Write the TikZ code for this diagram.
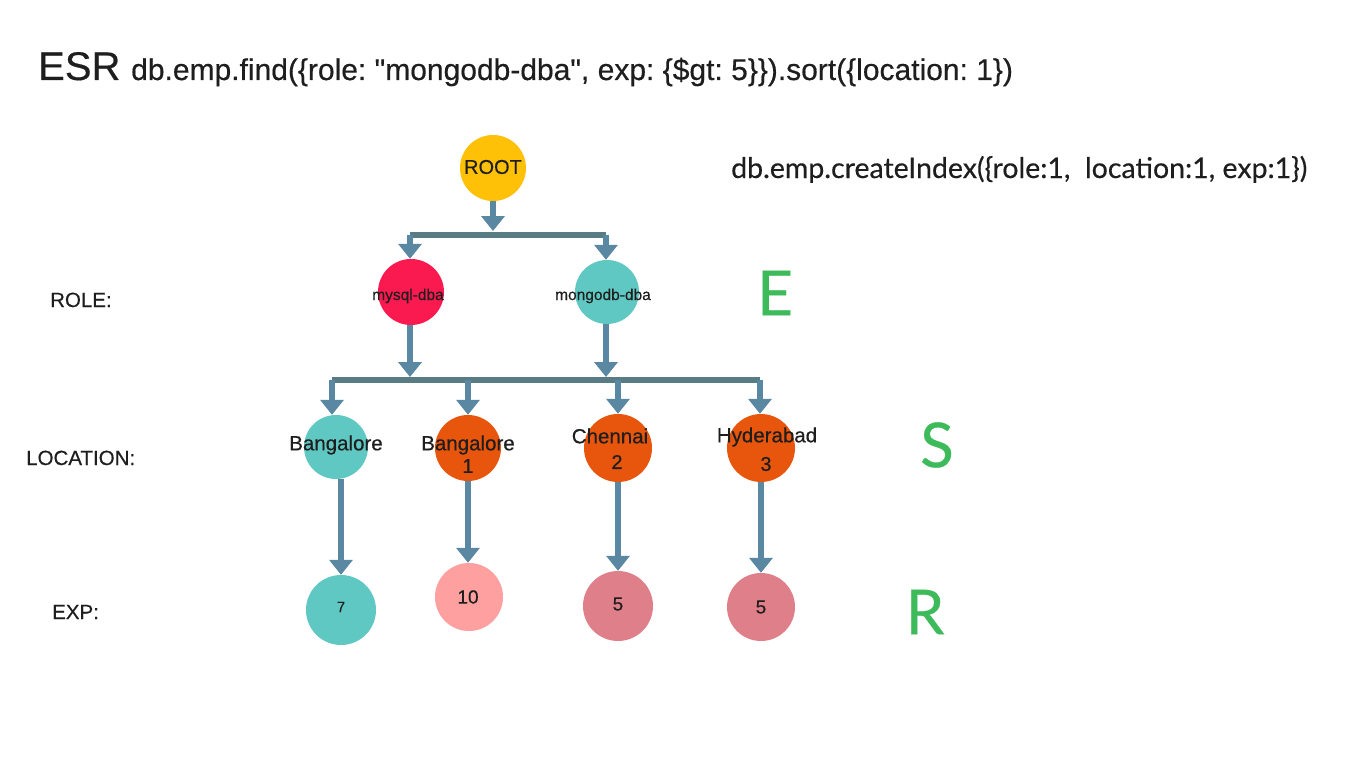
\documentclass[tikz,border=0pt]{standalone}
\usepackage{fontspec}
\setmainfont{Liberation Sans}[FakeBold=0.4]
\newfontfamily\querfont{Liberation Sans}[FakeBold=0.4]
\newfontfamily\latofont{Lato}[FakeBold=0.4]
\usetikzlibrary{arrows.meta}
\definecolor{arrowc}{HTML}{5A88A3}
\definecolor{barc}{HTML}{587C84}
\definecolor{yel}{HTML}{FFC107}
\definecolor{crim}{HTML}{FA1A4F}
\definecolor{teal}{HTML}{5FC8C3}
\definecolor{orng}{HTML}{E8550C}
\definecolor{pinkl}{HTML}{FFA0A0}
\definecolor{rose}{HTML}{DE7F8A}
\definecolor{esrg}{HTML}{3DBA5A}
\definecolor{txt}{HTML}{1E1E1E}
\frenchspacing
\begin{document}
\begin{tikzpicture}[x=1pt,y=-1pt,
  circ/.style={circle,inner sep=0pt,minimum size=#1},
  arr/.style={draw=arrowc,line width=6pt,-{Triangle[width=23pt,length=15pt]}},
  barline/.style={draw=barc,line width=6pt},
  ntext/.style={text=txt,inner sep=0pt,font=\fontsize{#1}{#1}\selectfont},
  rowlbl/.style={text=txt,inner sep=0pt,anchor=base west,font=\fontsize{20.5}{20.5}\selectfont},
  bigl/.style={text=esrg,inner sep=0pt,font=\latofont\fontsize{62}{62}\selectfont}]
\useasboundingbox[fill=white] (0,0) rectangle (1366,768);

% title
\node[anchor=base west,inner sep=0pt,text=txt,font=\fontsize{40}{40}\selectfont] (esr) at (38,80) {ESR};
\node[anchor=base west,inner sep=0pt,text=txt,font=\querfont\fontsize{30}{30}\selectfont] (query) at (131,80) {db.emp.find(\{role: "mongodb-dba", exp: \{\$gt: 5\}\}).sort(\{location: 1\})};
\node[anchor=base west,inner sep=0pt,text=txt,font=\latofont\fontsize{28.5}{28.5}\selectfont] (idx) at (731,178) {db.emp.createIndex(\{role:1,\ \ location:1, exp:1\})};

% row labels
\node[rowlbl] (lrole) at (50,307) {ROLE:};
\node[rowlbl] (lloc) at (26,465) {LOCATION:};
\node[rowlbl] (lexp) at (52,619) {EXP:};

% big letters
\node[bigl] (bE) at (775,293) {E};
\node[bigl] (bS) at (937,445) {S};
\node[bigl] (bR) at (925,612) {R};

% circles
\node[circ=66pt,fill=yel] (root) at (493,168) {};
\node[circ=66pt,fill=crim] (mysql) at (411,292) {};
\node[circ=64pt,fill=teal] (mongo) at (607,292) {};
\node[circ=64pt,fill=teal] (loc1) at (336,447) {};
\node[circ=66pt,fill=orng] (loc2) at (468,448) {};
\node[circ=68pt,fill=orng] (loc3) at (618,448) {};
\node[circ=68pt,fill=orng] (loc4) at (761,448) {};
\node[circ=70pt,fill=teal] (exp1) at (341,610) {};
\node[circ=68pt,fill=pinkl] (exp2) at (469,597) {};
\node[circ=70pt,fill=rose] (exp3) at (618,606) {};
\node[circ=68pt,fill=rose] (exp4) at (761,607) {};

% circle texts
\node[ntext=20] (troot) at (493,167) {ROOT};
\node[ntext=15.5] (tmysql) at (408,296) {mysql-dba};
\node[ntext=15.5] (tmongo) at (603,296) {mongodb-dba};
\node[ntext=20.5] (tloc1) at (336,445) {Bangalore};
\node[ntext=20.5] (tloc2) at (468,445) {Bangalore};
\node[ntext=20] (tloc2b) at (468,466) {1};
\node[ntext=20.5] (tloc3) at (610,436) {Chennai};
\node[ntext=20] (tloc3b) at (617,462) {2};
\node[ntext=20.5] (tloc4) at (767,437) {Hyderabad};
\node[ntext=20] (tloc4b) at (766,464) {3};
\node[ntext=15] (texp1) at (341,607) {7};
\node[ntext=19] (texp2) at (468,597) {10};
\node[ntext=19] (texp3) at (618,604) {5};
\node[ntext=19] (texp4) at (761,607) {5};

% connectors
\coordinate (bar1L) at (410,235);
\coordinate (bar1R) at (606,235);
\coordinate (bar1C) at (493,231);
\draw[barline] (bar1L) -- (bar1R);
\draw[arr] (root.south) -- (bar1C);
\draw[arr] (bar1L) -- (mysql.north -| bar1L);
\draw[arr] (bar1R) -- (mongo.north -| bar1R);

\coordinate (bar2L) at (332,380);
\coordinate (bar2R) at (760,380);
\draw[barline] (bar2L) -- (bar2R);
\draw[arr] (mysql.south -| bar1L) -- (410,377);
\draw[arr] (mongo.south -| bar1R) -- (606,377);
\draw[arr] (bar2L) -- (loc1.north -| bar2L);
\draw[arr] (468,380) -- (loc2.north);
\draw[arr] (618,380) -- (loc3.north);
\draw[arr] (bar2R) -- (loc4.north -| bar2R);

\draw[arr] (loc1.south -| exp1) -- (exp1.north);
\draw[arr] (loc2.south) -- (exp2.north -| loc2);
\draw[arr] (loc3.south) -- (exp3.north);
\draw[arr] (loc4.south) -- (exp4.north);
\end{tikzpicture}
\end{document}
